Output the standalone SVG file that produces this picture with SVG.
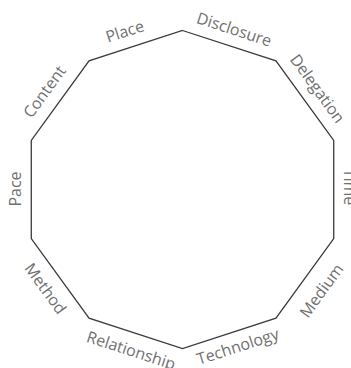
<svg xmlns="http://www.w3.org/2000/svg" width="351" height="368" viewBox="0 0 351 368">
<style>
.edge{fill:none;stroke:#3a3a3a;stroke-width:1.3;stroke-linejoin:miter}
.lbl{font-family:"Open Sans","Liberation Sans",sans-serif;font-size:16px;fill:#707070;text-anchor:middle}
</style>
<rect width="351" height="368" fill="#ffffff"/>
<g id="connectors">
<polygon class="edge" points="182.5,30.5 275.96,60.87 333.72,140.37 333.72,238.63 275.96,318.13 182.5,348.5 89.04,318.13 31.28,238.63 31.28,140.37 89.04,60.87"/>
</g>
<g id="disclosure" transform="translate(234,30) rotate(18)"><text class="lbl" x="0" y="5">Disclosure</text></g>
<g id="delegation" transform="translate(317,89) rotate(54)"><text class="lbl" x="0" y="5">Delegation</text></g>
<g id="time" transform="translate(349,187) rotate(90)"><text class="lbl" x="0" y="5">Time</text></g>
<g id="medium" transform="translate(322,291) rotate(-54)"><text class="lbl" x="0" y="5">Medium</text></g>
<g id="technology" transform="translate(238,347) rotate(-18)"><text class="lbl" x="0" y="5">Technology</text></g>
<g id="relationship" transform="translate(131,351) rotate(18)"><text class="lbl" x="0" y="5">Relationship</text></g>
<g id="method" transform="translate(45,289) rotate(54)"><text class="lbl" x="0" y="5">Method</text></g>
<g id="pace" transform="translate(16,189) rotate(-90)"><text class="lbl" x="0" y="5">Pace</text></g>
<g id="content" transform="translate(45,92) rotate(-54)"><text class="lbl" x="0" y="5">Content</text></g>
<g id="place" transform="translate(125,32) rotate(-18)"><text class="lbl" x="0" y="5">Place</text></g>
</svg>
